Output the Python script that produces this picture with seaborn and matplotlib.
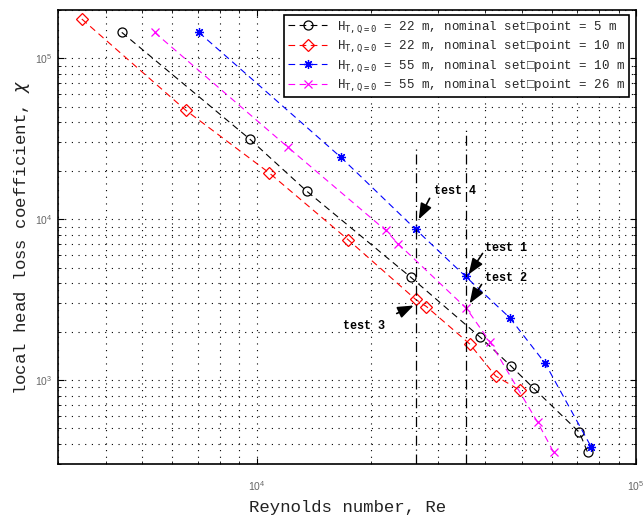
import seaborn as sns
import matplotlib.pyplot as plt
import pandas as pd
from matplotlib.ticker import LogLocator, NullFormatter

# values (Reynolds number vs head loss coefficient)
re_22_5 = [4410, 9600, 13540, 25470, 38860, 46900, 53770, 70920, 74580]
chi_22_5 = [145200, 31420, 14960, 4357, 1843, 1215, 886, 472, 354]

re_22_10 = [3460, 6500, 10770, 17420, 26260, 28020, 36420, 42630, 49310]
chi_22_10 = [175800, 47640, 19480, 7454, 3165, 2862, 1676, 1059, 866]

re_55_10 = [7040, 16670, 26260, 35550, 46490, 57610, 76150]
chi_55_10 = [145200, 24270, 8638, 4401, 2434, 1269, 384]

re_55_26 = [5380, 12090, 21890, 23590, 35700, 41290, 55080, 60700]
chi_55_26 = [145200, 28020, 8515, 7038, 2793, 1715, 544, 354]

series_labels = [
    r'H$_{\mathtt{T,Q=0}}$ = 22 m, nominal set□point = 5 m',
    r'H$_{\mathtt{T,Q=0}}$ = 22 m, nominal set□point = 10 m',
    r'H$_{\mathtt{T,Q=0}}$ = 55 m, nominal set□point = 10 m',
    r'H$_{\mathtt{T,Q=0}}$ = 55 m, nominal set□point = 26 m',
]

# vertical test lines
test_re = [26260, 35600]
test_chi_top = [27500, 37500]

sns.set_style("ticks")
plt.rcParams["font.family"] = ["Liberation Sans", "DejaVu Sans"]
plt.rcParams["mathtext.fontset"] = "dejavusans"
mono = ["Liberation Mono", "DejaVu Sans Mono"]

fig = plt.figure(figsize=(6.44, 5.18), dpi=100)
ax = fig.add_axes([58.3 / 644, 54 / 518, 577.7 / 644, 454 / 518])
ax.set_xscale("log")
ax.set_yscale("log")

styles = [
    dict(color="black", marker="o", mfc="none", ms=6.5),
    dict(color="red", marker="D", mfc="none", ms=6),
    dict(color="blue", marker=(8, 2, 0), mfc="blue", ms=6.5),
    dict(color="magenta", marker="x", mfc="none", ms=6),
]
xs = [re_22_5, re_22_10, re_55_10, re_55_26]
ys = [chi_22_5, chi_22_10, chi_55_10, chi_55_26]

for x, y, lab, st in zip(xs, ys, series_labels, styles):
    df = pd.DataFrame({"Re": x, "chi": y})
    sns.lineplot(data=df, x="Re", y="chi", ax=ax, estimator=None, sort=False,
                 color=st["color"], marker=st["marker"], mfc=st["mfc"],
                 mec=st["color"], mew=0.9, ms=st["ms"], lw=0.8,
                 linestyle=(0, (6, 4)), label=lab)

ax.vlines(test_re, [300, 300], test_chi_top, colors="black", lw=0.9,
          linestyles=[(0, (8, 3, 1, 3))])

ax.set_xlim(3000, 1e5)
ax.set_ylim(300, 2e5)

ax.xaxis.set_minor_locator(LogLocator(base=10, subs=range(2, 10), numticks=20))
ax.yaxis.set_minor_locator(LogLocator(base=10, subs=range(2, 10), numticks=20))
ax.xaxis.set_minor_formatter(NullFormatter())
ax.yaxis.set_minor_formatter(NullFormatter())

ax.grid(True, which="both", color="black", lw=0.8, linestyle=(0, (1, 5)))
ax.tick_params(which="both", direction="in", top=True, right=True,
               labelsize=7.5, labelcolor="#666666", color="black")
ax.tick_params(which="major", length=4, width=0.8)
ax.tick_params(which="minor", length=2, width=0.6)
ax.tick_params(axis="x", pad=11)
ax.tick_params(axis="y", pad=4)
for sp in ax.spines.values():
    sp.set_linewidth(1.2)
    sp.set_color("black")

ax.set_xlabel("Reynolds number, Re", family=mono, fontsize=12.5,
              color="#222222", labelpad=5)
ax.set_ylabel(r"local head loss coefficient, $\chi$", family=mono,
              fontsize=12.5, color="#222222", labelpad=2)

# annotations for the tests
arrow = dict(arrowstyle="-|>,head_length=0.8,head_width=0.3", color="black",
             lw=1.2, mutation_scale=12, shrinkA=0, shrinkB=0)
ax.annotate("", xy=(26740, 9970), xytext=(28580, 13480), arrowprops=arrow)
ax.annotate("", xy=(36200, 4530), xytext=(39400, 6120), arrowprops=arrow)
ax.annotate("", xy=(36420, 2988), xytext=(39160, 3925), arrowprops=arrow)
ax.annotate("", xy=(25940, 2904), xytext=(23400, 2589), arrowprops=arrow)
tkw = dict(family=mono, fontsize=8.5, fontweight="bold", color="black",
           va="center")
ax.text(29290, 14960, "test 4", ha="left", **tkw)
ax.text(39890, 6607, "test 1", ha="left", **tkw)
ax.text(39890, 4296, "test 2", ha="left", **tkw)
ax.text(21760, 2179, "test 3", ha="right", **tkw)

leg = ax.legend(loc="upper right", bbox_to_anchor=(0.988, 0.989),
                borderaxespad=0, prop={"family": mono, "size": 9},
                handlelength=3.1, handletextpad=0.8, labelspacing=0.3,
                fancybox=False, framealpha=1, edgecolor="black",
                borderpad=0.3)
leg.get_frame().set_linewidth(1.2)

fig.savefig("out.png", dpi=100)
